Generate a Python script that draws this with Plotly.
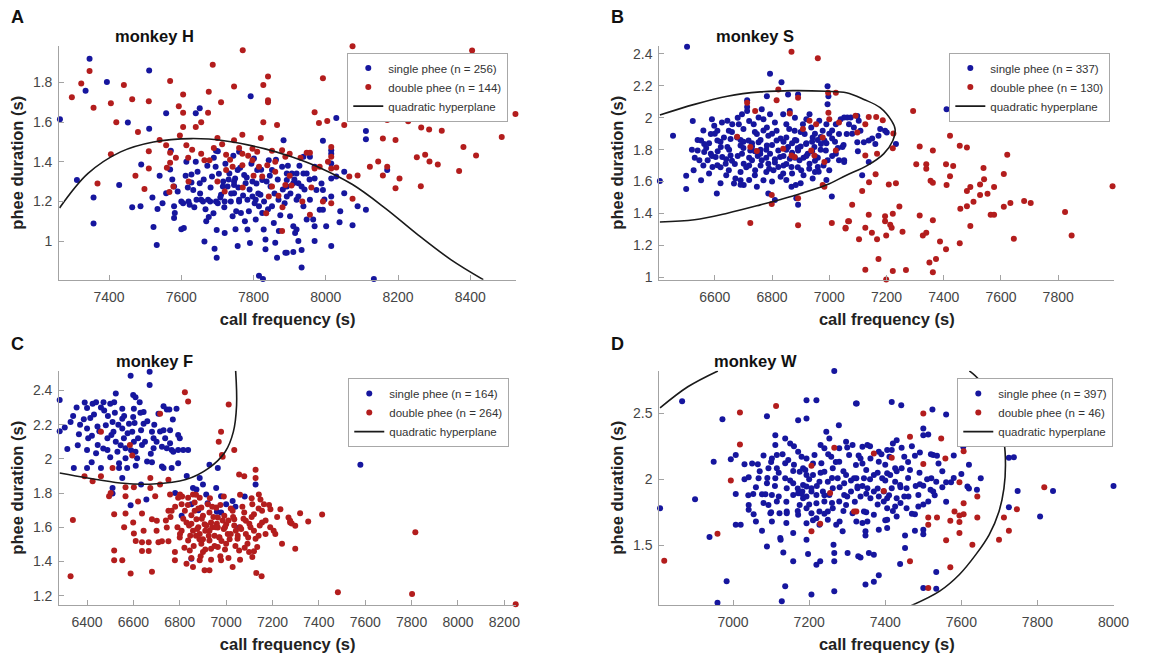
import plotly.graph_objects as go

BLUE = "#16169e"
RED = "#b31d1d"
CURVE = "#1a1a1a"
AXIS = "#a3a3a3"
TICKTXT = "#454545"
FONT = "Liberation Sans, Arial, Helvetica, sans-serif"

# ---------------- Panel A : monkey H ----------------
h_single = [
    (7264, 1.615), (7346, 1.92), (7335, 1.758), (7394, 1.803), (7511, 1.861), (7452, 1.598), (7511, 1.566),
    (7558, 1.645), (7640, 1.645), (7651, 1.67), (7792, 1.731), (7311, 1.308), (7357, 1.22), (7357, 1.088),
    (7428, 1.283), (7464, 1.17), (7487, 1.175), (7489, 1.386), (7523, 1.071), (7534, 1.161), (7532, 0.98),
    (7558, 1.241), (7569, 1.361), (7571, 1.455), (7580, 1.275), (7580, 1.175), (7582, 1.141), (7580, 1.116),
    (7605, 1.191), (7607, 1.066), (7614, 1.40), (7623, 1.183), (7628, 1.336), (7628, 1.295), (7633, 1.258),
    (7640, 1.40), (7642, 1.208), (7651, 1.291), (7655, 1.208), (7664, 0.997), (7669, 1.10), (7676, 1.121),
    (7674, 1.208), (7685, 1.325), (7696, 1.455), (7695, 1.375), (7696, 1.20), (7698, 1.055), (7701, 1.191),
    (7710, 1.233), (7715, 1.275), (7716, 1.30), (7692, 0.961), (7698, 0.916), (7733, 1.341), (7728, 1.275),
    (7737, 1.20), (7742, 1.125), (7746, 1.283), (7749, 1.316), (7746, 1.241), (7756, 0.975), (7756, 1.358),
    (7760, 1.208), (7765, 1.141), (7774, 1.333), (7778, 1.291), (7783, 1.208), (7787, 1.15), (7783, 1.058),
    (7797, 1.30), (7797, 1.225), (7801, 1.416), (7806, 1.208), (7806, 1.108), (7815, 1.175), (7819, 1.233),
    (7810, 1.358), (7824, 1.308), (7824, 1.141), (7828, 1.058), (7833, 1.008), (7833, 0.958), (7842, 1.408),
    (7847, 1.275), (7851, 1.358), (7851, 1.175), (7856, 1.091), (7860, 0.991), (7865, 0.916), (7869, 1.208),
    (7879, 1.375), (7883, 1.508), (7888, 0.941), (7892, 1.308), (7815, 0.825), (7826, 0.808), (7701, 1.453),
    (7746, 1.30), (7600, 1.20), (7620, 1.20), (7660, 1.20), (7680, 1.20), (7720, 1.20), (7760, 1.20),
    (8029, 1.621), (8111, 1.555), (8111, 1.513), (7992, 1.506), (8015, 1.458), (8015, 1.441), (7938, 1.425),
    (7956, 1.425), (7969, 1.375), (7892, 1.341), (7906, 1.341), (7919, 1.341), (7938, 1.341), (7947, 1.341),
    (7924, 1.291), (7910, 1.291), (7933, 1.275), (7892, 1.275), (7969, 1.316), (7974, 1.258), (7992, 1.258),
    (8015, 1.316), (8029, 1.325), (8051, 1.35), (8015, 1.225), (8051, 1.241), (8088, 1.175), (8111, 1.158),
    (7983, 1.158), (7992, 1.158), (7892, 1.225), (7919, 1.208), (7956, 1.208), (7938, 1.175), (7924, 1.225),
    (7901, 1.125), (7947, 1.108), (7969, 1.075), (7965, 1.108), (8001, 1.075), (8038, 1.095), (8074, 1.08),
    (7910, 1.075), (7919, 1.058), (7915, 1.041), (7924, 1.0), (7969, 1.0), (8015, 0.975), (7933, 0.955),
    (7910, 0.945), (7892, 0.941), (7933, 0.866), (8170, 1.358), (8133, 0.808), (8015, 1.391),
    (7575, 1.31), (7590, 1.25), (7612, 1.33), (7618, 1.27), (7636, 1.17), (7645, 1.35), (7652, 1.24),
    (7662, 1.31), (7667, 1.16), (7672, 1.38), (7681, 1.27), (7689, 1.14), (7704, 1.34), (7708, 1.22),
    (7719, 1.17), (7722, 1.39), (7731, 1.31), (7738, 1.24), (7744, 1.43), (7752, 1.15), (7758, 1.27),
    (7763, 1.37), (7771, 1.23), (7776, 1.10), (7781, 1.32), (7789, 1.26), (7794, 1.39), (7803, 1.19),
    (7808, 1.29), (7813, 1.24), (7821, 1.36), (7829, 1.20), (7836, 1.30), (7840, 1.16), (7845, 1.33),
    (7858, 1.24), (7862, 1.41), (7867, 1.31), (7874, 1.13), (7881, 1.26), (7886, 1.19), (7895, 1.38),
    (7902, 1.24), (7913, 1.31), (7927, 1.38), (7941, 1.26), (7955, 1.31), (7988, 1.29), (7996, 1.21),
    (8040, 1.15), (7548, 1.19), (7540, 1.33), (7520, 1.22), (7600, 1.06), (7720, 1.04), (7750, 1.06),
    (7790, 0.99), (7870, 1.05), (7690, 1.42), (7760, 1.45),
]
h_double = [
    (7770, 1.963), (7687, 1.89), (7840, 1.83), (7569, 1.808), (7746, 1.78), (7827, 1.788), (7676, 1.753),
    (7605, 1.74), (7840, 1.71), (7840, 1.70), (7710, 1.70), (7593, 1.68), (7605, 1.647), (7674, 1.647),
    (7827, 1.60), (7605, 1.575), (7640, 1.575), (7865, 1.586), (7596, 1.533), (7769, 1.536), (7510, 1.705),
    (7464, 1.715), (7441, 1.788), (7405, 1.695), (7357, 1.672), (7323, 1.795), (7346, 1.858), (7297, 1.725),
    (7405, 1.438), (7510, 1.453), (7558, 1.483), (7569, 1.445), (7614, 1.483), (7746, 1.508), (7713, 1.488),
    (7797, 1.466), (7619, 1.42), (7664, 1.408), (7678, 1.408), (7724, 1.436), (7769, 1.44), (7797, 1.408),
    (7815, 1.375), (7838, 1.383), (7851, 1.455), (7879, 1.458), (7888, 1.425), (7510, 1.366), (7473, 1.33),
    (7368, 1.29), (7498, 1.263), (7569, 1.395), (7724, 1.358), (7742, 1.375), (7769, 1.383), (7824, 1.325),
    (7851, 1.275), (7888, 1.283), (7869, 1.228), (7842, 1.225), (7578, 1.275), (7567, 1.247), (7879, 1.05),
    (8074, 1.983), (8405, 1.961), (7992, 1.822), (8109, 1.803), (7969, 1.65), (7981, 1.595), (8004, 1.606),
    (8051, 1.586), (8299, 1.661), (8170, 1.611), (8228, 1.605), (8264, 1.573), (8286, 1.563), (8321, 1.556),
    (8525, 1.641), (8487, 1.525), (8158, 1.518), (8193, 1.51), (8381, 1.475), (8416, 1.431), (8252, 1.423),
    (8275, 1.436), (8287, 1.401), (8310, 1.386), (8122, 1.375), (8145, 1.401), (8170, 1.375), (8158, 1.331),
    (8204, 1.316), (8193, 1.266), (8263, 1.276), (8369, 1.353), (8015, 1.475), (8006, 1.40), (8015, 1.425),
    (8029, 1.371), (8015, 1.366), (7983, 1.375), (7969, 1.366), (8065, 1.325), (8088, 1.331), (8074, 1.213),
    (7992, 1.20), (8015, 1.19), (7956, 1.133), (7947, 1.445), (7956, 1.445),
    (7630, 1.46), (7655, 1.44), (7690, 1.47), (7735, 1.41), (7760, 1.47), (7785, 1.43), (7810, 1.45),
    (7860, 1.40), (7900, 1.44), (7930, 1.42), (7700, 1.52), (7540, 1.51), (7480, 1.55), (7420, 1.60),
    (7820, 1.52), (7655, 1.60), (7585, 1.42), (7560, 1.37), (7900, 1.33), (7905, 1.28), (7860, 1.35),
    (7620, 1.30), (7700, 1.30), (7720, 1.25), (7770, 1.27), (7800, 1.33), (7835, 1.14), (7880, 1.17),
    (7935, 1.20), (7960, 1.27),
]
h_curve = [
    (7263, 1.167), (7341, 1.34), (7432, 1.45), (7523, 1.50), (7628, 1.517), (7723, 1.505), (7832, 1.465),
    (7905, 1.425), (7983, 1.37), (8074, 1.285), (8165, 1.165), (8256, 1.03), (8347, 0.905), (8436, 0.805),
]
h_xticks = [7400, 7600, 7800, 8000, 8200, 8400]
h_yticks = [1, 1.2, 1.4, 1.6, 1.8]
h_xrange = [7262, 8527]
h_yrange = [0.804, 1.986]

# ---------------- Panel B : monkey S ----------------
s_single = [
    (6503, 2.445), (6408, 1.603), (6454, 1.888), (6523, 1.98), (6500, 1.636), (6500, 1.553), (6526, 1.671),
    (6607, 1.526), (6793, 2.276), (6833, 2.222), (6782, 2.135), (6856, 2.146), (6891, 2.146), (6994, 2.197),
    (6997, 2.135), (6994, 2.084), (6713, 2.109), (6713, 2.067), (6713, 2.042), (6793, 2.022), (6736, 1.96),
    (6563, 1.836), (6563, 1.785), (6575, 1.733), (6586, 1.898), (6598, 1.95), (6609, 1.918), (6609, 1.857),
    (6621, 1.816), (6626, 1.754), (6609, 1.702), (6644, 1.981), (6649, 1.918), (6655, 1.867), (6644, 1.816),
    (6655, 1.764), (6638, 1.712), (6649, 1.671), (6667, 1.588), (6690, 1.609), (6701, 1.578), (6684, 1.96),
    (6678, 1.877), (6690, 1.826), (6695, 1.774), (6701, 1.712), (6718, 1.857), (6724, 1.795), (6730, 1.733),
    (6741, 1.671), (6747, 1.898), (6753, 1.846), (6759, 1.774), (6764, 1.733), (6770, 1.609), (6782, 1.939),
    (6787, 1.888), (6782, 1.826), (6793, 1.774), (6787, 1.712), (6805, 1.671), (6816, 1.918), (6816, 1.857),
    (6822, 1.795), (6828, 1.754), (6822, 1.692), (6839, 1.65), (6839, 2.022), (6850, 1.96), (6850, 1.877),
    (6856, 1.816), (6862, 1.743), (6868, 1.692), (6868, 1.568), (6879, 1.918), (6885, 1.857), (6891, 1.795),
    (6896, 1.733), (6902, 1.671), (6908, 1.96), (6914, 1.898), (6919, 1.836), (6925, 1.774), (6931, 1.712),
    (6937, 1.939), (6942, 1.877), (6948, 1.816), (6954, 1.754), (6960, 1.692), (6965, 1.981), (6977, 1.918),
    (6983, 1.857), (6988, 1.795), (6994, 1.733), (7000, 1.671), (7009, 1.506), (7023, 1.96), (7034, 1.898),
    (7046, 1.816), (7052, 1.733), (7063, 2.001), (6883, 1.578), (6891, 1.454), (6885, 1.496), (6942, 1.619),
    (6963, 1.661), (6747, 1.568), (6787, 1.526), (6810, 1.485), (6672, 1.619), (6552, 1.609), (6546, 1.733),
    (6540, 1.795), (6552, 1.857), (6586, 1.774), (6592, 1.692), (6603, 1.754), (6632, 1.877), (6661, 1.96),
    (6695, 2.022), (6753, 2.001), (6764, 2.053), (6862, 2.042), (6931, 2.022), (6971, 1.836), (7023, 1.774),
    (7034, 1.733), (6700, 1.85), (6730, 1.82), (6760, 1.80), (6800, 1.83), (6830, 1.87), (6870, 1.84),
    (6900, 1.82), (6940, 1.85), (6970, 1.88), (7000, 1.90), (6780, 1.75), (6810, 1.72), (6840, 1.70),
    (6870, 1.78), (6910, 1.75), (6950, 1.73), (6990, 1.84), (7010, 1.87), (6720, 1.70), (6660, 1.73),
    (7410, 2.053), (7052, 2.001), (7075, 2.001), (7098, 2.011), (7069, 1.96), (7086, 1.939), (7103, 1.981),
    (7109, 1.919), (7098, 1.846), (7121, 1.846), (7138, 1.857), (7161, 1.836), (7172, 1.888), (7178, 1.929),
    (7195, 1.919), (7201, 1.908), (7233, 1.836), (7138, 1.723), (7115, 1.64), (7052, 1.723), (7061, 1.898),
    (6590, 1.99), (6625, 1.97), (6680, 2.00), (6720, 1.98), (6770, 1.99), (6810, 1.97), (6880, 2.00),
    (6920, 1.99), (6990, 1.96), (7040, 1.99), (6560, 1.92), (6600, 1.90), (6660, 1.91), (6700, 1.93),
    (6740, 1.91), (6770, 1.92), (6800, 1.90), (6860, 1.93), (6900, 1.91), (6950, 1.90), (7010, 1.92),
    (7080, 1.90), (6540, 1.86), (6580, 1.84), (6620, 1.85), (6690, 1.86), (6730, 1.84), (6760, 1.86),
    (6840, 1.85), (6880, 1.86), (6920, 1.84), (6960, 1.86), (7020, 1.85), (7050, 1.83), (7150, 1.87),
    (6520, 1.80), (6570, 1.81), (6610, 1.79), (6650, 1.80), (6700, 1.81), (6740, 1.79), (6780, 1.80),
    (6850, 1.80), (6890, 1.81), (6940, 1.79), (6970, 1.80), (7030, 1.81), (7100, 1.79), (6530, 1.75),
    (6590, 1.76), (6640, 1.74), (6680, 1.76), (6720, 1.75), (6750, 1.76), (6810, 1.74), (6840, 1.76),
    (6880, 1.75), (6920, 1.76), (6960, 1.75), (7010, 1.76), (6560, 1.70), (6620, 1.69), (6670, 1.71),
    (6710, 1.69), (6760, 1.70), (6790, 1.68), (6850, 1.71), (6890, 1.69), (6930, 1.68), (6980, 1.70),
    (6580, 1.65), (6640, 1.64), (6690, 1.66), (6740, 1.64), (6780, 1.66), (6830, 1.63), (6870, 1.65),
    (6910, 1.64), (6950, 1.66), (6620, 1.59), (6690, 1.58), (6720, 1.61), (6800, 1.60), (6850, 1.61),
    (6900, 1.59), (6990, 1.61),
]
s_double = [
    (6868, 2.414), (6960, 2.373), (6822, 2.177), (6891, 2.125), (6713, 2.094), (6816, 2.109), (6862, 2.026),
    (6741, 2.042), (6996, 2.156), (7023, 2.156), (6997, 2.032), (7000, 1.991), (7034, 1.97), (6678, 1.881),
    (6724, 1.816), (6747, 1.791), (6839, 1.805), (6868, 1.764), (6879, 1.754), (6908, 1.929), (6931, 1.981),
    (6954, 1.96), (6977, 1.877), (6937, 1.795), (6948, 1.764), (6983, 1.722), (7023, 1.795), (6977, 1.578),
    (6983, 1.568), (6799, 1.516), (6799, 1.46), (6891, 1.496), (6724, 1.341), (6891, 1.326), (7009, 1.341),
    (7057, 1.306), (7066, 1.351),
    (7293, 2.042), (7092, 2.012), (7138, 2.005), (7164, 2.005), (7187, 1.985), (7126, 1.96), (7098, 1.908),
    (7224, 1.902), (7222, 1.809), (7167, 1.774), (7126, 1.764), (7316, 1.82), (7362, 1.795), (7422, 1.888),
    (7456, 1.824), (7481, 1.813), (7304, 1.708), (7339, 1.708), (7339, 1.681), (7408, 1.708), (7433, 1.698),
    (7422, 1.634), (7410, 1.578), (7354, 1.605), (7362, 1.592), (7539, 1.685), (7541, 1.615), (7527, 1.582),
    (7527, 1.516), (7553, 1.524), (7576, 1.566), (7622, 1.768), (7610, 1.648), (7610, 1.442), (7633, 1.465),
    (7681, 1.479), (7704, 1.465), (7824, 1.409), (7847, 1.262), (7645, 1.242), (7493, 1.566), (7481, 1.541),
    (7504, 1.473), (7481, 1.446), (7458, 1.43), (7493, 1.322), (7564, 1.392), (7576, 1.392), (7208, 1.582),
    (7233, 1.589), (7139, 1.595), (7162, 1.646), (7115, 1.541), (7080, 1.454), (7069, 1.351), (7057, 1.31),
    (7104, 1.238), (7126, 1.31), (7138, 1.392), (7149, 1.279), (7167, 1.238), (7195, 1.382), (7195, 1.351),
    (7213, 1.33), (7222, 1.399), (7218, 1.31), (7245, 1.444), (7256, 1.285), (7199, 1.262), (7316, 1.388),
    (7327, 1.262), (7339, 1.279), (7362, 1.357), (7387, 1.225), (7408, 1.176), (7373, 1.114), (7350, 1.093),
    (7362, 1.031), (7456, 1.213), (7172, 1.114), (7126, 1.048), (7222, 1.039), (7268, 1.046), (7199, 0.986),
    (7990, 1.57),
]
s_curve = [
    (6408, 2.017), (6529, 2.084), (6644, 2.135), (6759, 2.162), (6873, 2.17), (6989, 2.166), (7060, 2.157),
    (7121, 2.115), (7178, 2.063), (7218, 1.98), (7230, 1.929), (7222, 1.856), (7190, 1.774), (7132, 1.70),
    (7060, 1.64), (6989, 1.578), (6873, 1.51), (6759, 1.454), (6644, 1.402), (6529, 1.361), (6408, 1.347),
]
s_xticks = [6600, 6800, 7000, 7200, 7400, 7600, 7800]
s_yticks = [1, 1.2, 1.4, 1.6, 1.8, 2, 2.2, 2.4]
s_xrange = [6406, 7996]
s_yrange = [0.984, 2.452]

# ---------------- Panel C : monkey F ----------------
f_single = [
    (6282, 2.345), (6282, 2.162), (6329, 2.216), (6315, 2.058), (6304, 2.183), (6343, 1.946), (6365, 2.144),
    (6386, 2.231), (6400, 2.297), (6400, 2.177), (6400, 2.052), (6400, 1.946), (6414, 2.239), (6424, 2.322),
    (6439, 2.331), (6421, 2.135), (6439, 2.033), (6446, 2.081), (6453, 2.162), (6460, 1.946), (6471, 2.331),
    (6474, 2.283), (6481, 2.197), (6488, 2.12), (6488, 2.052), (6500, 2.322), (6517, 2.331), (6524, 2.383),
    (6510, 2.216), (6514, 2.158), (6524, 2.1), (6531, 2.042), (6538, 1.975), (6538, 1.946), (6552, 2.293),
    (6552, 2.235), (6552, 2.177), (6559, 2.12), (6566, 2.062), (6566, 2.004), (6552, 1.888), (6573, 1.946),
    (6581, 2.206), (6588, 2.486), (6599, 2.374), (6609, 2.36), (6602, 2.293), (6599, 2.245), (6595, 2.158),
    (6602, 2.1), (6609, 2.042), (6616, 2.004), (6627, 2.331), (6633, 2.168), (6637, 2.081), (6644, 2.274),
    (6644, 2.206), (6659, 1.985), (6670, 2.509), (6670, 2.432), (6680, 2.158), (6687, 2.12), (6687, 2.062),
    (6633, 1.85), (6588, 1.728), (6510, 1.83), (6510, 1.798), (6708, 2.264), (6730, 2.308), (6744, 2.289),
    (6755, 2.289), (6730, 2.168), (6737, 2.12), (6723, 2.071), (6744, 2.062), (6758, 2.168), (6758, 2.091),
    (6765, 2.052), (6772, 2.042), (6786, 2.293), (6793, 2.139), (6793, 2.052), (6815, 2.052), (6836, 2.052),
    (6723, 1.956), (6730, 1.946), (6765, 1.946), (6793, 1.975), (6656, 1.763), (6808, 1.667), (6850, 1.734),
    (6857, 1.83), (6886, 1.888), (6928, 1.965), (6964, 1.946), (6957, 1.83), (6978, 1.782), (7000, 1.734),
    (7028, 1.753), (6978, 1.686), (7056, 1.599), (7127, 1.85), (6850, 1.416), (6900, 1.85), (6872, 1.821),
    (6914, 1.792), (7579, 1.965),
    (6340, 2.25), (6355, 2.30), (6370, 2.20), (6390, 2.33), (6405, 2.12), (6430, 2.26), (6445, 2.19),
    (6460, 2.30), (6470, 2.06), (6490, 2.25), (6505, 2.14), (6520, 2.27), (6535, 2.20), (6545, 2.08),
    (6560, 2.25), (6575, 2.15), (6590, 2.05), (6605, 2.21), (6620, 2.12), (6630, 2.27), (6650, 2.10),
    (6660, 2.22), (6675, 2.03), (6690, 2.20), (6700, 2.10), (6715, 2.16), (6770, 2.23), (6800, 2.12),
    (6680, 1.98), (6610, 1.96), (6500, 2.01), (6420, 1.98), (6360, 2.08), (6880, 1.70), (6920, 1.74),
    (6960, 1.69), (7040, 1.72), (7080, 1.78), (6780, 1.80), (6830, 1.90),
]
f_double = [
    (6329, 1.314), (6339, 1.642), (6822, 2.389), (6836, 2.335), (7011, 2.318), (6715, 2.264), (6978, 2.158),
    (6968, 2.1), (7035, 2.052), (6982, 2.023), (6460, 2.158), (6510, 1.946), (6585, 2.081), (6595, 2.02),
    (6673, 1.888), (6751, 1.878), (6389, 1.898), (6424, 1.869), (6460, 1.898), (6495, 1.782), (6502, 1.801),
    (6566, 1.782), (6566, 1.834), (6602, 1.834), (6673, 1.83), (6715, 1.85), (6694, 1.782), (6758, 1.792),
    (6801, 1.792), (6517, 1.676), (6566, 1.68), (6599, 1.628), (6602, 1.564), (6637, 1.68), (6644, 1.58),
    (6637, 1.512), (6637, 1.461), (6666, 1.512), (6666, 1.461), (6680, 1.647), (6701, 1.638), (6708, 1.512),
    (6723, 1.518), (6751, 1.696), (6765, 1.696), (6744, 1.599), (6751, 1.518), (6779, 1.455), (6779, 1.407),
    (6517, 1.464), (6517, 1.407), (6552, 1.407), (6588, 1.33), (6680, 1.339), (6793, 1.773), (6808, 1.734),
    (6822, 1.696), (6829, 1.628), (6801, 1.561), (6808, 1.58), (6836, 1.773), (6857, 1.792), (6864, 1.744),
    (6864, 1.696), (6872, 1.647), (6857, 1.58), (6836, 1.522), (6843, 1.464), (6829, 1.387), (6857, 1.368),
    (6886, 1.773), (6893, 1.715), (6900, 1.667), (6907, 1.618), (6886, 1.561), (6893, 1.503), (6900, 1.455),
    (6886, 1.407), (6907, 1.349), (6928, 1.349), (6921, 1.734), (6928, 1.686), (6935, 1.628), (6928, 1.58),
    (6928, 1.522), (6935, 1.474), (6957, 1.715), (6964, 1.657), (6964, 1.599), (6971, 1.541), (6964, 1.484),
    (6978, 1.407), (6992, 1.667), (7000, 1.618), (7007, 1.561), (7000, 1.503), (7028, 1.368), (7028, 1.696),
    (7035, 1.647), (7042, 1.58), (7049, 1.532), (7056, 1.464), (7078, 1.686), (7085, 1.638), (7085, 1.561),
    (7092, 1.503), (7099, 1.455), (7113, 1.734), (7120, 1.676), (7120, 1.58), (7127, 1.532), (7134, 1.484),
    (7141, 1.792), (7148, 1.763), (7155, 1.696), (7155, 1.628), (7170, 1.561), (7163, 1.734), (7130, 1.333),
    (7153, 1.314), (7113, 1.426), (7191, 1.705), (7205, 1.58), (7212, 1.561), (7234, 1.705), (7241, 1.503),
    (7269, 1.657), (7276, 1.628), (7056, 1.908), (7078, 1.898), (7127, 1.936), (7127, 1.888), (6985, 2.013),
    (6850, 1.62), (6880, 1.60), (6910, 1.58), (6940, 1.60), (6960, 1.62), (6990, 1.59), (7010, 1.64),
    (6870, 1.55), (6900, 1.53), (6950, 1.55), (6980, 1.52), (7020, 1.56), (7060, 1.60), (7100, 1.62),
    (7319, 1.682), (7414, 1.674), (7354, 1.634), (7283, 1.622), (7276, 1.638), (7298, 1.609), (7298, 1.474),
    (7482, 1.22), (7802, 1.21), (7816, 1.57), (8249, 1.15),
    (6810, 1.78), (6870, 1.79), (6930, 1.77), (6990, 1.78), (7060, 1.79), (7110, 1.77), (6780, 1.72),
    (6835, 1.73), (6880, 1.71), (6940, 1.72), (6975, 1.73), (7020, 1.71), (7070, 1.72), (7140, 1.71),
    (7185, 1.73), (6760, 1.66), (6815, 1.65), (6850, 1.67), (6895, 1.65), (6945, 1.66), (6985, 1.64),
    (7030, 1.66), (7075, 1.65), (7110, 1.66), (7170, 1.64), (7220, 1.66), (6790, 1.60), (6840, 1.61),
    (6875, 1.59), (6915, 1.61), (6955, 1.60), (6995, 1.60), (7035, 1.61), (7065, 1.59), (7105, 1.60),
    (7145, 1.61), (7190, 1.60), (6800, 1.54), (6845, 1.55), (6885, 1.53), (6925, 1.55), (6970, 1.54),
    (7015, 1.53), (7050, 1.55), (7095, 1.54), (7140, 1.55), (6820, 1.48), (6860, 1.49), (6910, 1.47),
    (6950, 1.49), (6995, 1.47), (7040, 1.49), (7080, 1.48), (7120, 1.46), (6850, 1.42), (6890, 1.43),
    (6935, 1.41), (6975, 1.43), (7010, 1.42), (7060, 1.41), (6560, 1.60), (6610, 1.52), (6700, 1.58),
    (6620, 1.75), (6740, 1.64),
]
f_curve = [
    (6282, 1.917), (6402, 1.888), (6543, 1.859), (6685, 1.853), (6826, 1.879), (6925, 1.946), (6996, 2.042),
    (7031, 2.158), (7045, 2.312), (7041, 2.515),
]
f_xticks = [6400, 6600, 6800, 7000, 7200, 7400, 7600, 7800, 8000, 8200]
f_yticks = [1.2, 1.4, 1.6, 1.8, 2, 2.2, 2.4]
f_xrange = [6280, 8251]
f_yrange = [1.146, 2.516]

# ---------------- Panel D : monkey W ----------------
w_single = [
    (6808, 1.781), (6866, 2.59), (6900, 1.849), (6938, 1.563), (6949, 2.133), (6972, 2.455), (6959, 1.065),
    (6983, 1.229), (6994, 2.151), (7007, 2.183), (7007, 1.889), (7007, 1.656), (7020, 1.656), (7030, 2.113),
    (7041, 2.015), (7041, 1.806), (7041, 1.769), (7054, 1.736), (7053, 1.889), (7065, 2.113), (7067, 2.007),
    (7076, 1.887), (7076, 1.61), (7085, 1.887), (7089, 2.477), (7089, 1.492), (7089, 1.97), (7093, 2.083),
    (7093, 1.806), (7098, 1.744), (7102, 2.158), (7102, 1.681), (7102, 1.882), (7111, 2.334), (7111, 2.259),
    (7111, 2.007), (7115, 2.183), (7115, 2.083), (7115, 1.832), (7122, 1.744), (7124, 1.555), (7125, 1.543),
    (7132, 1.447), (7137, 1.191), (7128, 1.078), (7137, 2.309), (7137, 2.121), (7137, 2.007), (7141, 1.932),
    (7141, 1.756), (7141, 1.744), (7145, 2.146), (7150, 2.271), (7158, 2.063), (7158, 1.97), (7158, 1.882),
    (7158, 1.593), (7158, 1.379), (7171, 2.447), (7171, 2.208), (7171, 1.894), (7171, 1.731), (7175, 2.058),
    (7175, 1.806), (7184, 2.083), (7184, 1.957), (7182, 1.907), (7184, 1.857), (7193, 2.598), (7193, 2.46),
    (7193, 2.158), (7193, 2.032), (7193, 1.945), (7193, 1.869), (7193, 1.781), (7193, 1.668), (7193, 1.543),
    (7197, 1.435), (7206, 1.128), (7206, 1.932), (7206, 1.907), (7206, 1.744), (7210, 2.032), (7214, 2.183),
    (7219, 2.598), (7219, 1.882), (7219, 1.819), (7219, 1.706), (7219, 1.354), (7227, 1.982), (7227, 1.756),
    (7227, 1.656), (7229, 1.379), (7232, 2.121), (7236, 1.907), (7240, 2.234), (7240, 2.058), (7240, 1.832),
    (7245, 2.359), (7249, 1.982), (7249, 1.756), (7249, 1.693), (7253, 1.882), (7253, 2.309), (7258, 2.171),
    (7262, 2.083), (7262, 1.932), (7262, 1.781), (7264, 1.505), (7266, 2.819), (7266, 1.442), (7266, 1.379),
    (7266, 1.153), (7271, 1.656), (7275, 2.007), (7278, 2.409), (7279, 2.234), (7279, 2.133), (7279, 1.832),
    (7288, 1.606), (7292, 1.97), (7292, 1.882), (7297, 2.284), (7297, 2.032), (7297, 1.806), (7301, 1.442),
    (7305, 2.183), (7310, 1.907), (7314, 2.259), (7314, 1.744), (7323, 2.573), (7323, 2.108), (7324, 2.007),
    (7327, 1.932), (7324, 1.681), (7329, 1.417),
    (7325, 2.573), (7417, 2.585), (7442, 2.56), (7524, 2.528), (7560, 2.49), (7500, 2.384), (7500, 2.334),
    (7513, 2.339), (7688, 2.392), (7605, 2.246), (7725, 2.163), (7738, 2.166), (7430, 2.296), (7353, 2.259),
    (7340, 2.246), (7383, 2.208), (7405, 2.221), (7417, 2.221), (7443, 2.239), (7478, 2.178), (7491, 2.203),
    (7526, 2.183), (7536, 2.178), (7411, 2.171), (7335, 2.158), (7361, 2.158), (7383, 2.133), (7426, 2.083),
    (7443, 2.083), (7465, 2.07), (7405, 2.045), (7370, 2.032), (7318, 2.007), (7344, 2.007), (7392, 2.007),
    (7413, 2.032), (7521, 2.007), (7534, 1.982), (7560, 1.977), (7573, 1.977), (7651, 2.007), (7616, 1.945),
    (7641, 1.92), (7491, 1.962), (7500, 1.952), (7439, 1.957), (7456, 1.932), (7426, 1.982), (7327, 1.945),
    (7353, 1.932), (7370, 1.907), (7396, 1.907), (7417, 1.932), (7335, 1.869), (7361, 1.857), (7383, 1.869),
    (7405, 1.857), (7430, 1.857), (7461, 1.869), (7487, 1.882), (7519, 1.92), (7526, 1.907), (7513, 1.832),
    (7487, 1.794), (7456, 1.781), (7426, 1.794), (7405, 1.781), (7396, 1.832), (7344, 1.756), (7370, 1.731),
    (7353, 1.681), (7405, 1.693), (7430, 1.719), (7478, 1.736), (7348, 1.606), (7348, 1.575), (7383, 1.618),
    (7405, 1.631), (7452, 1.575), (7478, 1.61), (7500, 1.618), (7500, 1.585), (7452, 1.48), (7335, 1.409),
    (7357, 1.442), (7370, 1.429), (7439, 1.359), (7534, 1.299), (7383, 1.274), (7370, 1.224), (7348, 1.204),
    (7500, 1.178), (7534, 1.171), (7748, 1.912), (7725, 1.789), (7807, 1.719), (7841, 1.912), (8000, 1.95),
    (7160, 2.25), (7230, 2.26), (7300, 2.24), (7360, 2.25), (7420, 2.27), (7470, 2.25), (7080, 2.18),
    (7130, 2.19), (7180, 2.17), (7250, 2.19), (7330, 2.18), (7390, 2.19), (7450, 2.17), (7520, 2.19),
    (7580, 2.18), (7050, 2.12), (7100, 2.13), (7160, 2.11), (7210, 2.12), (7270, 2.13), (7340, 2.12),
    (7400, 2.11), (7460, 2.13), (7540, 2.12), (7620, 2.11), (7070, 2.06), (7120, 2.05), (7190, 2.07),
    (7230, 2.05), (7290, 2.06), (7350, 2.07), (7380, 2.05), (7430, 2.06), (7490, 2.05), (7550, 2.06),
    (7600, 2.04), (7030, 2.00), (7090, 2.01), (7150, 1.99), (7200, 2.00), (7260, 2.01), (7310, 1.99),
    (7360, 2.00), (7400, 1.99), (7460, 2.01), (7510, 2.00), (7580, 2.01), (7060, 1.94), (7110, 1.95),
    (7170, 1.93), (7220, 1.95), (7280, 1.94), (7340, 1.95), (7380, 1.93), (7440, 1.94), (7480, 1.95),
    (7550, 1.94), (7620, 1.93), (7040, 1.88), (7120, 1.87), (7180, 1.89), (7240, 1.88), (7300, 1.87),
    (7350, 1.89), (7410, 1.88), (7450, 1.87), (7530, 1.88), (7080, 1.82), (7140, 1.83), (7200, 1.81),
    (7260, 1.82), (7320, 1.83), (7380, 1.81), (7440, 1.82), (7500, 1.81), (7560, 1.83), (7100, 1.75),
    (7170, 1.76), (7240, 1.74), (7290, 1.76), (7350, 1.75), (7420, 1.76), (7470, 1.74), (7060, 1.68),
    (7140, 1.67), (7210, 1.69), (7280, 1.68), (7340, 1.67), (7400, 1.69),
]
w_double = [
    (6819, 1.384), (6959, 1.588), (6994, 1.99), (7018, 2.505), (7018, 2.264), (7113, 2.555), (7206, 2.103),
    (7206, 1.606), (7229, 1.663), (7255, 1.897), (7266, 2.239), (7324, 1.756),
    (7500, 2.497), (7465, 2.321), (7547, 2.309), (7677, 2.271), (7606, 2.213), (7370, 2.196), (7417, 2.163),
    (7500, 2.116), (7558, 2.158), (7396, 1.912), (7595, 1.977), (7642, 1.869), (7606, 1.819), (7582, 1.756),
    (7606, 1.736), (7595, 1.726), (7571, 1.686), (7595, 1.676), (7513, 1.711), (7536, 1.711), (7513, 1.656),
    (7642, 1.711), (7595, 1.593), (7560, 1.538), (7629, 1.505), (7465, 1.379), (7571, 1.334), (7513, 1.178),
    (7712, 1.711), (7725, 1.61), (7699, 1.543), (7746, 1.774), (7818, 1.94), (7318, 1.756),
]
w_curve_left = [(6808, 2.54), (6881, 2.70), (6960, 2.82)]
w_curve_right = [
    (7621, 2.82), (7647, 2.75), (7675, 2.58), (7699, 2.41), (7712, 2.284), (7716, 2.108), (7712, 1.932),
    (7699, 1.757), (7673, 1.58), (7638, 1.43), (7595, 1.28), (7543, 1.154), (7465, 1.04),
]
w_xticks = [7000, 7200, 7400, 7600, 7800, 8000]
w_yticks = [1.5, 2, 2.5]
w_xrange = [6806, 8002]
w_yrange = [1.05, 2.822]

n_single = [256, 337, 164, 397]
n_double = [144, 130, 264, 46]
monkeys = ["monkey H", "monkey S", "monkey F", "monkey W"]
letters = ["A", "B", "C", "D"]

# ---------------- layout geometry (pixels of the 1150x656 page) ----------------
W, H = 1150, 656
col_px = [(60, 523), (668, 1129)]
row_px = [(46, 282), (373.5, 609.5)]


def xdom(c):
    return [col_px[c][0] / W, col_px[c][1] / W]


def ydom(r):
    return [1 - row_px[r][1] / H, 1 - row_px[r][0] / H]


panels = [
    dict(single=h_single, double=h_double, curve=[h_curve], xt=h_xticks, yt=h_yticks,
         xr=h_xrange, yr=h_yrange, col=0, row=0),
    dict(single=s_single, double=s_double, curve=[s_curve], xt=s_xticks, yt=s_yticks,
         xr=s_xrange, yr=s_yrange, col=1, row=0),
    dict(single=f_single, double=f_double, curve=[f_curve], xt=f_xticks, yt=f_yticks,
         xr=f_xrange, yr=f_yrange, col=0, row=1),
    dict(single=w_single, double=w_double, curve=[w_curve_left, w_curve_right], xt=w_xticks, yt=w_yticks,
         xr=w_xrange, yr=w_yrange, col=1, row=1),
]

# legend boxes: (right edge px, top px)
legend_pos = [(515, 53), (1125, 53), (516, 381), (1128, 381)]

fig = go.Figure()
layout = dict(
    width=W, height=H, margin=dict(l=0, r=0, t=0, b=0),
    paper_bgcolor="white", plot_bgcolor="white",
    font=dict(family=FONT, color="#222"),
    annotations=[],
)

for i, p in enumerate(panels):
    sfx = "" if i == 0 else str(i + 1)
    xa, ya = "x" + sfx, "y" + sfx
    leg = "legend" + sfx

    sx = [v[0] for v in p["single"]]
    sy = [v[1] for v in p["single"]]
    dx = [v[0] for v in p["double"]]
    dy = [v[1] for v in p["double"]]
    cx, cy = [], []
    for k, seg in enumerate(p["curve"]):
        if k > 0:
            cx.append(None)
            cy.append(None)
        cx += [v[0] for v in seg]
        cy += [v[1] for v in seg]

    fig.add_trace(go.Scatter(
        x=sx, y=sy, mode="markers", name=f"single phee (n = {n_single[i]})",
        marker=dict(color=BLUE, size=6, line=dict(width=0)),
        xaxis=xa, yaxis=ya, legend=leg, cliponaxis=False))
    fig.add_trace(go.Scatter(
        x=dx, y=dy, mode="markers", name=f"double phee (n = {n_double[i]})",
        marker=dict(color=RED, size=6, line=dict(width=0)),
        xaxis=xa, yaxis=ya, legend=leg, cliponaxis=False))
    fig.add_trace(go.Scatter(
        x=cx, y=cy, mode="lines", name="quadratic hyperplane",
        line=dict(color=CURVE, width=1.6, shape="spline", smoothing=1.0),
        connectgaps=False, xaxis=xa, yaxis=ya, legend=leg))

    axis_common = dict(
        showline=True, linecolor=AXIS, linewidth=1, mirror=False,
        ticks="inside", ticklen=5, tickwidth=1, tickcolor=AXIS,
        showgrid=False, zeroline=False,
        tickfont=dict(family=FONT, size=14, color=TICKTXT),
    )
    layout["xaxis" + sfx] = dict(
        axis_common, domain=xdom(p["col"]), range=p["xr"], anchor=ya,
        tickmode="array", tickvals=p["xt"], ticklabelstandoff=4,
        title=dict(text="call frequency (s)", standoff=9,
                   font=dict(family=FONT, size=16.5, color="#222", weight="bold")),
    )
    layout["yaxis" + sfx] = dict(
        axis_common, domain=ydom(p["row"]), range=p["yr"], anchor=xa,
        tickmode="array", tickvals=p["yt"], ticklabelstandoff=3,
        title=dict(text="phee duration (s)", standoff=5,
                   font=dict(family=FONT, size=16.5, color="#222", weight="bold")),
    )
    rx, ty = legend_pos[i]
    layout[leg] = dict(
        x=rx / W, y=1 - ty / H, xanchor="right", yanchor="top",
        bgcolor="white", bordercolor="#a8a8a8", borderwidth=1,
        font=dict(family=FONT, size=11.5, color="#333"),
        itemwidth=30, tracegroupgap=0,
    )

    # panel title ("monkey X") and letter
    tcx = 157 if p["col"] == 0 else 765
    tcy = 36.5 if p["row"] == 0 else 363.5
    layout["annotations"].append(dict(
        text=monkeys[i], xref="paper", yref="paper", x=tcx / W, y=1 - tcy / H,
        xanchor="center", yanchor="middle", showarrow=False,
        font=dict(family=FONT, size=16.5, color="#111", weight="bold")))
    lx = 18 if p["col"] == 0 else 626
    ly = 17 if p["row"] == 0 else 347
    layout["annotations"].append(dict(
        text=letters[i], xref="paper", yref="paper", x=lx / W, y=1 - ly / H,
        xanchor="center", yanchor="middle", showarrow=False,
        font=dict(family=FONT, size=18, color="#111", weight="bold")))

fig.update_layout(**layout)
fig.write_html("out.html")
